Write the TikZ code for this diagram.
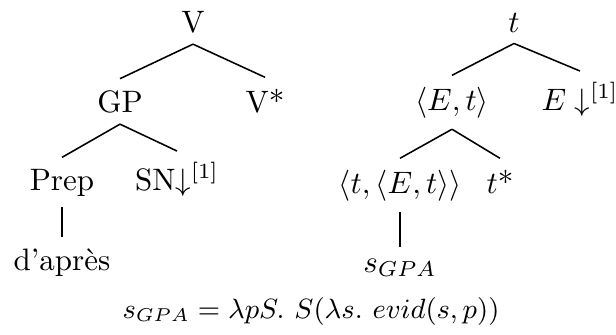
\documentclass[tikz,border=0pt]{standalone}
\usetikzlibrary{positioning}

\begin{document}
\begin{tikzpicture}[
  x=0.3226pt, y=-0.3226pt,
  lbl/.style={anchor=base, inner sep=3.5pt},
  branch/.style={line width=0.5pt},
]
% ---- frame ----
\useasboundingbox (0,0) rectangle (616,334);

% ---- left tree ----
\node[lbl] (V)      at (193,32)  {V};
\node[lbl] (GP)     at (120,112) {GP};
\node[lbl] (Vstar)  at (265,112) {V*};
\node[lbl] (Prep)   at (62,190)  {Prep};
\node[lbl] (SN)     at (177,190) {SN$\downarrow^{[1]}$};
\node[lbl] (dapres) at (62,270)  {d'après};

\draw[branch] (V.south) -- (GP.north);
\draw[branch] (V.south) -- (Vstar.north);
\draw[branch] (GP.south) -- (Prep.north);
\draw[branch] (GP.south) -- (SN.north);
\draw[branch] (Prep.south) -- (dapres.north);

% ---- right tree ----
\node[lbl] (t)     at (514,32)  {$t$};
\node[lbl] (Et)    at (452,110) {$\langle E,t\rangle$};
\node[lbl] (Edown) at (580,110) {$E\downarrow^{[1]}$};
\node[lbl] (tEt)   at (400,193) {$\langle t,\langle E,t\rangle\rangle$};
\node[lbl] (tstar) at (500,193) {$t$*};
\node[lbl] (sgpa)  at (400,272) {$s_{GPA}$};

\draw[branch] (t.south) -- (Et.north);
\draw[branch] (t.south) -- (Edown.north);
\draw[branch] (Et.south) -- (tEt.north);
\draw[branch] (Et.south) -- (tstar.north);
\draw[branch] (tEt.south) -- (sgpa.north);

% ---- denotation ----
\node[lbl, font=\fontsize{9.2}{11}\selectfont] (formula) at (311,318)
  {$s_{GPA}=\lambda pS.\ S(\lambda s.\ evid(s,p))$};
\end{tikzpicture}
\end{document}
